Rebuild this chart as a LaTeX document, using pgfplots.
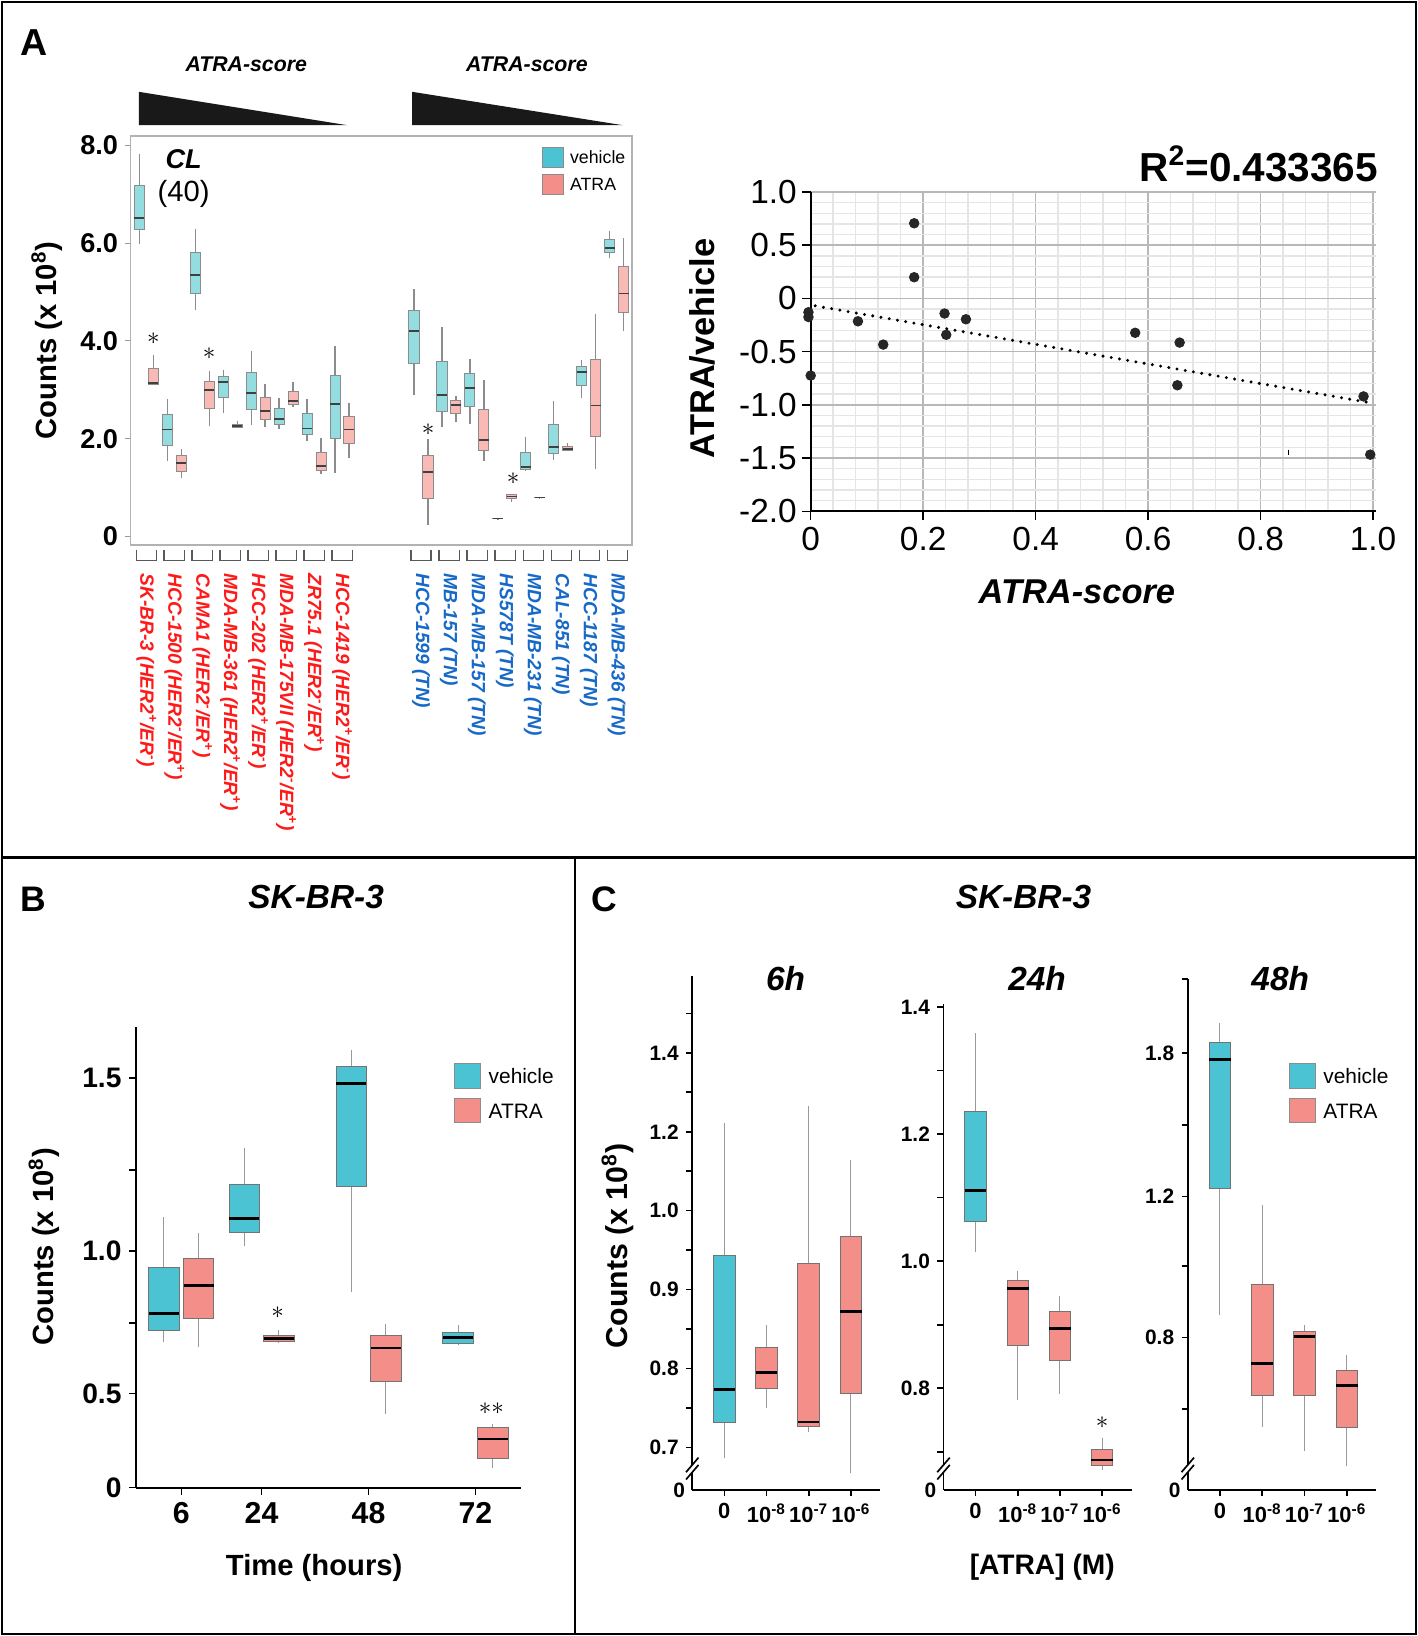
\documentclass[border=0pt]{standalone}
\usepackage{pgfplots}
\pgfplotsset{compat=1.18}
\usepgfplotslibrary{statistics}
\usepackage{fontspec}
\setmainfont{Liberation Sans}
\newcommand\fs[1]{\fontsize{#1}{#1}\selectfont}
\definecolor{vA}{HTML}{93DCE0}
\definecolor{aA}{HTML}{F9B9B4}
\definecolor{vB}{HTML}{4CC3D2}
\definecolor{aB}{HTML}{F38E89}
\definecolor{redL}{HTML}{FF1A1A}
\definecolor{blueL}{HTML}{1769C7}

\pgfplotsset{
  vAs/.style={draw=black!45, fill=vA, line width=0.45pt, boxplot/whisker extend=0,
    boxplot/every whisker/.style={draw=black!45, line width=0.6pt},
    boxplot/every median/.style={draw=black!75, line width=0.9pt}},
  aAs/.style={vAs, fill=aA},
  vBs/.style={draw=black!55, fill=vB, line width=0.45pt, boxplot/whisker extend=0,
    boxplot/every whisker/.style={draw=black!40, line width=0.5pt},
    boxplot/every median/.style={draw=black, line width=1.3pt}},
  aBs/.style={vBs, fill=aB},
  panelC/.style={scale only axis, anchor=south west,
    axis lines*=left, axis line style={black, line width=0.9pt},
    tick style={black, line width=0.8pt}, tick align=outside,
    major tick length=3pt, minor tick length=3pt,
    yticklabel style={font=\fs{10}\bfseries},
    xticklabel style={font=\fs{10.5}\bfseries},
    xtick={0,1,2,3},
    xticklabels={0,10\textsuperscript{-8},10\textsuperscript{-7},10\textsuperscript{-6}},
    xmin=-0.76, xmax=3.7, clip=false,
    boxplot/draw direction=y,
    boxplot/box extend=0.51,
    extra y tick style={major tick length=0pt}},
}
\newcommand\bx[7]{\addplot[#1, boxplot prepared={draw position=#2, lower whisker=#3, lower quartile=#4, median=#5, upper quartile=#6, upper whisker=#7}] coordinates {};}

\begin{document}
\begin{tikzpicture}
\path[use as bounding box] (0,0) rectangle (679.5pt,-784pt);

% ---- A: box plots of the cell lines
\begin{axis}[
  at={(62.6pt,-261.15pt)}, anchor=south west, scale only axis,
  width=240.3pt, height=196pt,
  xmin=0.38, xmax=36.25, ymin=-0.17, ymax=8.19,
  clip=false,
  axis line style={black!30, line width=0.6pt},
  ytick={0,2,4,6,8}, yticklabels={0,2.0,4.0,6.0,8.0},
  ytick pos=left, tick align=outside, major tick length=2.5pt,
  ytick style={black!40, line width=0.5pt},
  yticklabel style={font=\fs{13}\bfseries},
  xtick={1.5,3.5,5.5,7.5,9.5,11.5,13.5,15.5,21.15,23.15,25.15,27.15,29.15,31.15,33.15,35.15},
  xtick style={draw=none},
  xticklabels={
    {\color{redL}SK-BR-3 (HER2\textsuperscript{+}/ER\textsuperscript{-})},
    {\color{redL}HCC-1500 (HER2\textsuperscript{-}/ER\textsuperscript{+})},
    {\color{redL}CAMA1 (HER2\textsuperscript{-}/ER\textsuperscript{+})},
    {\color{redL}MDA-MB-361 (HER2\textsuperscript{+}/ER\textsuperscript{+})},
    {\color{redL}HCC-202 (HER2\textsuperscript{+}/ER\textsuperscript{-})},
    {\color{redL}MDA-MB-175VII (HER2\textsuperscript{-}/ER\textsuperscript{+})},
    {\color{redL}ZR75.1 (HER2\textsuperscript{-}/ER\textsuperscript{+})},
    {\color{redL}HCC-1419 (HER2\textsuperscript{+}/ER\textsuperscript{-})},
    {\color{blueL}HCC-1599 (TN)},
    {\color{blueL}MB-157 (TN)},
    {\color{blueL}MDA-MB-157 (TN)},
    {\color{blueL}HS578T (TN)},
    {\color{blueL}MDA-MB-231 (TN)},
    {\color{blueL}CAL-851 (TN)},
    {\color{blueL}HCC-1187 (TN)},
    {\color{blueL}MDA-MB-436 (TN)}},
  xticklabel style={rotate=-90, anchor=west, font=\fs{9.2}\bfseries\itshape, inner sep=0pt},
  xticklabel shift=11pt,
  ylabel={Counts (x 10\textsuperscript{8})},
  every axis y label/.style={at={(rel axis cs:-0.167,0.5)}, rotate=90, anchor=center, font=\fs{14}\bfseries},
  boxplot/draw direction=y,
  boxplot/box extend=0.72,
]
\bx{vAs}{1}{5.99}{6.27}{6.52}{7.17}{7.82}
\bx{aAs}{2}{3.12}{3.12}{3.14}{3.44}{3.71}
\bx{vAs}{3}{1.54}{1.87}{2.19}{2.50}{2.82}
\bx{aAs}{4}{1.20}{1.34}{1.51}{1.65}{1.80}
\bx{vAs}{5}{4.64}{4.98}{5.34}{5.81}{6.29}
\bx{aAs}{6}{2.26}{2.62}{2.99}{3.18}{3.39}
\bx{vAs}{7}{2.52}{2.84}{3.16}{3.28}{3.41}
\bx{aAs}{8}{2.24}{2.24}{2.27}{2.30}{2.36}
\bx{vAs}{9}{2.29}{2.60}{2.93}{3.35}{3.79}
\bx{aAs}{10}{2.24}{2.39}{2.56}{2.84}{3.11}
\bx{vAs}{11}{2.21}{2.30}{2.41}{2.62}{2.84}
\bx{aAs}{12}{2.65}{2.70}{2.77}{2.96}{3.16}
\bx{vAs}{13}{1.95}{2.08}{2.21}{2.52}{2.82}
\bx{aAs}{14}{1.29}{1.36}{1.44}{1.73}{2.01}
\bx{vAs}{15}{1.31}{2.00}{2.71}{3.30}{3.90}
\bx{aAs}{16}{1.61}{1.90}{2.19}{2.46}{2.73}
\bx{vAs}{20.65}{2.89}{3.53}{4.20}{4.63}{5.06}
\bx{aAs}{21.65}{0.23}{0.78}{1.32}{1.65}{1.99}
\bx{vAs}{22.65}{2.24}{2.56}{2.89}{3.59}{4.29}
\bx{aAs}{23.65}{2.35}{2.52}{2.69}{2.78}{2.88}
\bx{vAs}{24.65}{2.31}{2.67}{3.03}{3.33}{3.63}
\bx{aAs}{25.65}{1.54}{1.76}{1.98}{2.59}{3.21}
\bx{vAs}{26.65}{0.36}{0.365}{0.37}{0.375}{0.38}
\bx{aAs}{27.65}{0.71}{0.78}{0.82}{0.86}{0.88}
\bx{vAs}{28.65}{1.35}{1.37}{1.42}{1.73}{2.04}
\bx{aAs}{29.65}{0.79}{0.795}{0.80}{0.805}{0.81}
\bx{vAs}{30.65}{1.56}{1.69}{1.83}{2.29}{2.77}
\bx{aAs}{31.65}{1.76}{1.76}{1.80}{1.85}{1.92}
\bx{vAs}{32.65}{2.84}{3.10}{3.36}{3.48}{3.62}
\bx{aAs}{33.65}{1.39}{2.04}{2.68}{3.62}{4.56}
\bx{vAs}{34.65}{5.69}{5.80}{5.90}{6.07}{6.24}
\bx{aAs}{35.65}{4.20}{4.59}{4.97}{5.52}{6.10}
\node[font=\fs{13}] at (axis cs:2,4.05) {$\ast$};
\node[font=\fs{13}] at (axis cs:6,3.73) {$\ast$};
\node[font=\fs{13}] at (axis cs:21.67,2.18) {$\ast$};
\node[font=\fs{13}] at (axis cs:27.75,1.19) {$\ast$};
\end{axis}

% ---- A: scatter
\begin{axis}[
  at={(388.5pt,-245pt)}, anchor=south west, scale only axis,
  width=270.85pt, height=153pt,
  xmin=0, xmax=1.005, ymin=-2, ymax=1,
  clip=false,
  axis lines*=left, axis line style={black, line width=0.8pt},
  xtick={0,0.2,0.4,0.6,0.8,1}, xticklabels={0,0.2,0.4,0.6,0.8,1.0},
  ytick={-2,-1.5,-1,-0.5,0,0.5,1}, yticklabels={-2.0,-1.5,-1.0,-0.5,0,0.5,1.0},
  minor x tick num=4, minor y tick num=4,
  grid=both, major grid style={black!28, line width=0.7pt}, minor grid style={black!10, line width=0.7pt},
  tick align=outside, major tick length=4pt, minor tick length=0pt,
  tick style={black, line width=0.7pt},
  ticklabel style={font=\fs{16}},
  yticklabel style={inner sep=2.5pt},
  xlabel={ATRA-score}, ylabel={ATRA/vehicle},
  every axis x label/.style={at={(rel axis cs:0.471,-0.252)}, anchor=center, font=\fs{16.5}\bfseries\itshape},
  every axis y label/.style={at={(rel axis cs:-0.192,0.51)}, rotate=90, anchor=center, font=\fs{16.5}\bfseries},
]
\addplot[black, line width=1.6pt, line cap=round, dash pattern=on 0pt off 4pt] coordinates {(0.008,-0.07) (1.0,-0.985)};
\addplot[only marks, mark=*, mark size=2.3pt, black!85] coordinates {
  (-0.004,-0.13) (-0.004,-0.175) (0.0,-0.725) (0.084,-0.215) (0.129,-0.434)
  (0.184,0.706) (0.184,0.199) (0.238,-0.142) (0.241,-0.342) (0.276,-0.196)
  (0.577,-0.323) (0.656,-0.415) (0.652,-0.816) (0.983,-0.921) (0.995,-1.468)};
\addplot[black, line width=0.6pt] coordinates {(0.849,-1.42) (0.849,-1.47)};
\end{axis}

% ---- B: time course
% the source figure spaces its y labels unevenly (0, 0.5, 1.0, 1.5 sit at 0, 1.90, 4.78, 8.28),
% so the boxes are given in that drawn scale and the ticks carry the printed labels
\begin{axis}[
  at={(65.25pt,-712.85pt)}, anchor=south west, scale only axis,
  width=184.25pt, height=220.6pt,
  xmin=-4.14, xmax=82.14, ymin=0, ymax=9.30,
  clip=false,
  axis lines*=left, axis line style={black, line width=1pt},
  tick style={black, line width=0.8pt}, tick align=outside,
  major tick length=3.5pt, minor tick length=3.5pt,
  ytick={0,1.90,4.78,8.28}, yticklabels={0,0.5,1.0,1.5}, minor ytick={3.33,6.41},
  xtick={6,24,48,72}, xticklabels={6,24,48,72},
  yticklabel style={font=\fs{13.5}\bfseries},
  xticklabel style={font=\fs{14.5}\bfseries},
  xlabel={Time (hours)}, ylabel={Counts (x 10\textsuperscript{8})},
  every axis x label/.style={at={(rel axis cs:0.463,-0.174)}, anchor=center, font=\fs{14}\bfseries},
  every axis y label/.style={at={(rel axis cs:-0.239,0.523)}, rotate=90, anchor=center, font=\fs{14}\bfseries},
  boxplot/draw direction=y,
  boxplot/box extend=6.8,
]
\bx{vBs}{2.1}{2.95}{3.18}{3.52}{4.45}{5.46}
\bx{aBs}{9.9}{2.83}{3.41}{4.08}{4.62}{5.15}
\bx{vBs}{20.1}{4.88}{5.15}{5.44}{6.13}{6.85}
\bx{aBs}{27.9}{2.92}{2.96}{3.01}{3.07}{3.18}
\bx{vBs}{44.1}{3.95}{6.08}{8.16}{8.51}{8.83}
\bx{aBs}{51.9}{1.48}{2.14}{2.82}{3.08}{3.31}
\bx{vBs}{68.1}{2.88}{2.91}{3.03}{3.13}{3.28}
\bx{aBs}{75.9}{0.40}{0.58}{0.98}{1.21}{1.28}
\node[font=\fs{12}] at (axis cs:27.6,3.53) {$\ast$};
\node[font=\fs{12}] at (axis cs:75.6,1.60) {$\ast\ast$};
\end{axis}

% ---- C: 6h (labels 0.7 ... 1.4 drawn one step apart)
\begin{axis}[panelC,
  at={(331.75pt,-714pt)}, width=90.15pt, height=246.15pt,
  ymin=-0.54, ymax=5.97,
  ytick={0,1,2,3,4,5}, yticklabels={0.7,0.8,0.9,1.0,1.2,1.4},
  minor ytick={0.5,1.5,2.5,3.5,4.5,5.5},
  extra y ticks={-0.54}, extra y tick labels={0},
  ylabel={Counts (x 10\textsuperscript{8})},
  every axis y label/.style={at={(rel axis cs:-0.397,0.475)}, rotate=90, anchor=center, font=\fs{14.5}\bfseries},
]
\bx{vBs}{0}{-0.14}{0.31}{0.73}{2.43}{4.11}
\bx{aBs}{1}{0.50}{0.75}{0.95}{1.27}{1.55}
\bx{aBs}{2}{0.20}{0.26}{0.32}{2.33}{4.32}
\bx{aBs}{3}{-0.33}{0.68}{1.72}{2.67}{3.64}
\end{axis}

% ---- C: 24h
\begin{axis}[panelC,
  at={(452.15pt,-714pt)}, width=90.15pt, height=232.65pt,
  ymin=0.640, ymax=1.404,
  ytick={0.8,1.0,1.2,1.4}, yticklabels={0.8,1.0,1.2,1.4},
  minor ytick={0.7,0.9,1.1,1.3},
  extra y ticks={0.640}, extra y tick labels={0},
  xlabel={[ATRA] (M)},
  every axis x label/.style={at={(rel axis cs:0.525,-0.159)}, anchor=center, font=\fs{13.5}\bfseries},
]
\bx{vBs}{0}{1.014}{1.062}{1.111}{1.236}{1.359}
\bx{aBs}{1}{0.781}{0.868}{0.957}{0.970}{0.985}
\bx{aBs}{2}{0.791}{0.844}{0.894}{0.921}{0.945}
\bx{aBs}{3}{0.672}{0.679}{0.687}{0.704}{0.722}
\node[font=\fs{12}] at (axis cs:3,0.746) {$\ast$};
\end{axis}

% ---- C: 48h (0.8, 1.2, 1.8 drawn at -2.85, 0, 2.90)
\begin{axis}[panelC,
  at={(569.2pt,-714pt)}, width=90.4pt, height=245pt,
  ymin=-5.93, ymax=4.40,
  ytick={-2.85,0,2.90}, yticklabels={0.8,1.2,1.8},
  minor ytick={-4.30,-1.40,1.45,4.40},
  extra y ticks={-5.93}, extra y tick labels={0},
]
\bx{vBs}{0}{-2.40}{0.17}{2.77}{3.12}{3.50}
\bx{aBs}{1}{-4.65}{-4.02}{-3.38}{-1.78}{-0.17}
\bx{aBs}{2}{-5.15}{-4.02}{-2.83}{-2.73}{-2.60}
\bx{aBs}{3}{-5.45}{-4.66}{-3.82}{-3.52}{-3.20}
\end{axis}

% ---- frames, titles, legends, decorations
\begin{scope}[x=0.5pt,y=-0.5pt]
\draw[line width=1.3pt] (2,2) rectangle (1357,1566);
\draw[line width=1.3pt] (2,822) -- (1357,822);
\draw[line width=1.3pt] (551,822) -- (551,1566);

\node[font=\fs{18}\bfseries] at (33,41) {A};
\node[font=\fs{10.2}\bfseries\itshape] at (236,62) {ATRA-score};
\node[font=\fs{10.2}\bfseries\itshape] at (505,62) {ATRA-score};
\fill[black!90] (133,88) -- (333,120) -- (133,120) -- cycle;
\fill[black!90] (395,88) -- (597,120) -- (395,120) -- cycle;
\node[font=\fs{13}\bfseries\itshape] at (176,153) {CL};
\node[font=\fs{14}] at (176,186) {(40)};
\filldraw[fill=vB, draw=black!45, line width=0.4pt] (520,141) rectangle (540,160);
\filldraw[fill=aB, draw=black!45, line width=0.4pt] (520,167) rectangle (540,186);
\node[font=\fs{8.5}, anchor=west, inner sep=0pt] at (546,150.5) {vehicle};
\node[font=\fs{8.5}, anchor=west, inner sep=0pt] at (546,176.5) {ATRA};
\foreach \c in {140.2,167,193.8,220.6,247.4,274.2,301,327.8,403.5,430.4,457.3,484.2,511.1,538,564.9,591.8}
  \draw[black!65, line width=0.6pt] (\c-9.7,527) -- (\c-9.7,537) -- (\c+9.7,537) -- (\c+9.7,527);
\node[font=\fs{19.4}\bfseries, anchor=east, inner sep=0pt] at (1321,157) {R\textsuperscript{2}=0.433365};

\node[font=\fs{17}\bfseries] at (32,862) {B};
\node[font=\fs{16}\bfseries\itshape] at (303,860) {SK-BR-3};
\filldraw[fill=vB, draw=black!45, line width=0.4pt] (436,1019.6) rectangle (460,1043.4);
\filldraw[fill=aB, draw=black!45, line width=0.4pt] (436,1052.9) rectangle (460,1075.6);
\node[font=\fs{10}, anchor=west, inner sep=0pt] at (468,1031.5) {vehicle};
\node[font=\fs{10}, anchor=west, inner sep=0pt] at (468,1064.7) {ATRA};

\node[font=\fs{17}\bfseries] at (579,862) {C};
\node[font=\fs{16}\bfseries\itshape] at (981,860) {SK-BR-3};
\node[font=\fs{16}\bfseries\itshape] at (753,938) {6h};
\node[font=\fs{16}\bfseries\itshape] at (994,938) {24h};
\node[font=\fs{16}\bfseries\itshape] at (1227,938) {48h};
\filldraw[fill=vB, draw=black!45, line width=0.4pt] (1236.2,1019.6) rectangle (1260.3,1043.4);
\filldraw[fill=aB, draw=black!45, line width=0.4pt] (1236.2,1052.9) rectangle (1260.3,1075.6);
\node[font=\fs{10}, anchor=west, inner sep=0pt] at (1268,1031.5) {vehicle};
\node[font=\fs{10}, anchor=west, inner sep=0pt] at (1268,1064.7) {ATRA};

\foreach \s in {663.5,904.3,1138.4} {
  \fill[white] (\s-6,1418) -- (\s+6,1404) -- (\s+6,1397) -- (\s-6,1411) -- cycle;
  \draw[line width=0.8pt] (\s-6,1418) -- (\s+6,1404);
  \draw[line width=0.8pt] (\s-6,1411) -- (\s+6,1397);
}
\end{scope}
\end{tikzpicture}
\end{document}
